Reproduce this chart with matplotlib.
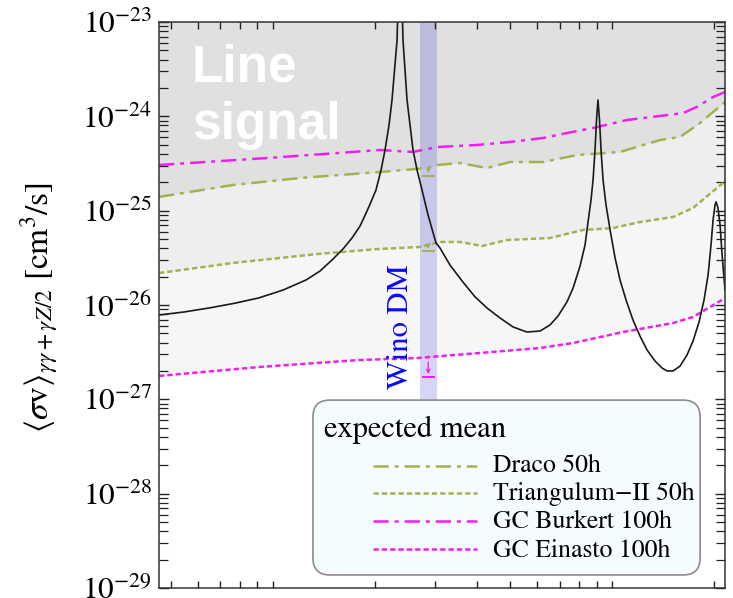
import numpy as np
import matplotlib
matplotlib.use('Agg')
import matplotlib.pyplot as plt
from matplotlib.patches import FancyBboxPatch
from matplotlib.ticker import LogLocator, FixedLocator, NullFormatter, NullLocator, LogFormatterMathtext

plt.rcParams['mathtext.fontset'] = 'stix'
plt.rcParams['font.family'] = ['STIXGeneral', 'DejaVu Serif']
plt.rcParams['lines.scale_dashes'] = False

# ---------------- data (mass in TeV, <sigma v> in cm^3/s) ----------------
wino_mass = [0.461, 0.546, 0.648, 0.767, 0.909, 1.070, 1.251, 1.376, 1.493, 1.609, 1.710, 1.806,
             1.881, 1.946, 2.013, 2.083, 2.140, 2.199, 2.244, 2.322, 2.370,
             2.418, 2.485, 2.536, 2.588, 2.660, 2.751, 2.866, 3.026, 3.109, 3.327, 3.610, 3.944,
             4.279, 4.674, 5.105, 5.61, 6.133, 6.562, 6.929, 7.365, 7.674, 8.048, 8.326, 8.496,
             8.671, 8.79, 8.91, 9.0, 9.09,
             9.185, 9.28, 9.41, 9.60, 9.87, 10.21, 10.56, 11.0, 11.53, 12.09, 12.69, 13.39, 14.04,
             14.53, 15.14, 15.87, 16.64, 17.34, 18.06, 18.68, 19.2, 19.59, 19.86, 20.13, 20.27,
             20.54, 20.83, 21.12, 21.54]
wino_sv = [7.83e-27, 8.43e-27, 9.3e-27, 1.04e-26, 1.19e-26, 1.44e-26, 1.84e-26, 2.29e-26, 3.0e-26,
           3.93e-26, 5.13e-26, 6.87e-26, 9.4e-26, 1.24e-25, 1.66e-25, 2.70e-25, 4.4e-25, 8.09e-25,
           1.49e-24, 6.4e-24, 1e-22,
           6.4e-24, 1.49e-24, 8.09e-25, 4.4e-25, 2.70e-25, 1.66e-25, 9.0e-26, 4.54e-26, 4.02e-26,
           2.65e-26, 1.80e-26, 1.22e-26, 9.29e-27, 7.28e-27, 5.85e-27, 5.17e-27, 5.30e-27,
           6.14e-27, 7.64e-27, 1.08e-26, 1.51e-26, 2.59e-26, 4.33e-26, 7.58e-26,
           1.30e-25, 2.11e-25, 4.40e-25, 9.14e-25, 1.49e-24,
           9.14e-25, 4.40e-25, 2.11e-25, 1.15e-25, 6.24e-26, 3.15e-26, 1.84e-26, 1.13e-26, 6.93e-27,
           4.69e-27, 3.33e-27, 2.55e-27, 2.15e-27, 2.0e-27, 2.0e-27, 2.25e-27, 2.95e-27, 4.15e-27,
           6.61e-27, 1.13e-26, 2.08e-26, 4.33e-26, 7.96e-26, 1.15e-25, 1.24e-25,
           1.07e-25, 7.05e-26, 3.39e-26, 1.44e-26]

draco_mass = [0.461, 0.762, 1.201, 2.068, 2.847, 3.047, 3.56, 4.28, 5.0, 6.26, 7.88, 10.56, 13.86,
              15.87, 18.18, 21.54]
draco_sv = [1.40e-25, 1.87e-25, 2.22e-25, 2.57e-25, 2.83e-25, 3.05e-25, 3.20e-25, 2.83e-25,
            3.28e-25, 3.28e-25, 3.89e-25, 4.19e-25, 5.61e-25, 6.04e-25, 8.49e-25, 1.42e-24]

tri_mass = [0.461, 0.762, 1.348, 2.068, 2.714, 3.109, 3.56, 4.14, 4.90, 6.56, 8.21, 10.07, 12.09,
            15.14, 17.34, 21.54]
tri_sv = [2.18e-26, 2.79e-26, 3.47e-26, 3.93e-26, 4.12e-26, 4.66e-26, 4.66e-26, 4.22e-26,
          4.89e-26, 5.13e-26, 6.24e-26, 6.55e-26, 7.58e-26, 8.57e-26, 1.07e-25, 2.05e-25]

burk_mass = [0.461, 0.98, 2.068, 2.588, 3.047, 4.0, 5.0, 6.26, 7.37, 8.79, 11.07, 13.86, 16.2,
             17.8, 19.86, 21.54]
burk_sv = [3.05e-25, 3.63e-25, 4.40e-25, 4.19e-25, 4.73e-25, 4.97e-25, 5.35e-25, 5.89e-25,
           6.66e-25, 7.52e-25, 9.14e-25, 1.01e-24, 1.08e-24, 1.26e-24, 1.60e-24, 1.81e-24]

ein_mass = [0.461, 0.909, 1.794, 2.660, 4.08, 6.13, 7.67, 10.78, 15.14, 17.34, 21.54]
ein_sv = [1.77e-27, 2.20e-27, 2.61e-27, 2.74e-27, 3.10e-27, 3.50e-27, 3.95e-27, 5.17e-27,
          6.44e-27, 7.46e-27, 1.18e-26]

wino_band = [2.72, 3.04]
wino_point = 2.87
limit_draco = [2.9e-25, 2.35e-25]
limit_tri = [4.5e-26, 3.7e-26]
limit_ein = [2.65e-27, 1.73e-27]

x_ticks = [0.5, 0.6, 0.7, 0.8, 0.9, 1, 2, 3, 4, 5, 6, 7, 8, 9, 10, 20]
legend_labels = ['Draco 50h', 'Triangulum\u2212II 50h', 'GC Burkert 100h', 'GC Einasto 100h']

# ---------------- styles ----------------
green = '#a3b24e'
magenta = '#f21ef0'
dashdot = (0, (11, 4.3, 2.8, 4.3))
dotted = (0, (3.8, 2.2))
lw = 1.8

fig = plt.figure(figsize=(7.33, 5.98), dpi=100)
ax = fig.add_axes([159/733, 10/598, 566/733, 566/598])
ax.set_xscale('log')
ax.set_yscale('log')
ax.set_xlim(0.461, 21.54)
ax.set_ylim(1e-29, 1e-23)

# shaded regions
ax.fill_between(ein_mass, ein_sv, 1e-22, color='#f6f6f6', lw=0, zorder=0.1)
ax.fill_between(tri_mass, tri_sv, 1e-22, color='#eeeeee', lw=0, zorder=0.2)
ax.fill_between(draco_mass, draco_sv, 1e-22, color='#e0e0e0', lw=0, zorder=0.3)

# wino band
ax.axvspan(wino_band[0], wino_band[1], ymin=0.3, ymax=1, color=(0.25, 0.25, 0.85), alpha=0.22,
           lw=0, zorder=0.5)

# expected limits
ax.plot(burk_mass, burk_sv, color=magenta, lw=lw, linestyle=dashdot, zorder=2)
ax.plot(draco_mass, draco_sv, color=green, lw=lw, linestyle=dashdot, zorder=2)
ax.plot(tri_mass, tri_sv, color=green, lw=lw, linestyle=dotted, zorder=2)
ax.plot(ein_mass, ein_sv, color=magenta, lw=lw, linestyle=dotted, zorder=2)

# markers at wino mass
for lim, col in [(limit_draco, green), (limit_tri, green), (limit_ein, magenta)]:
    ax.annotate('', xy=(wino_point, lim[1]), xytext=(wino_point, lim[0]),
                arrowprops=dict(arrowstyle='->', color=col, lw=1.0, mutation_scale=6), zorder=2.5)
    ax.hlines(lim[1], wino_band[0] * 1.01, wino_band[1] * 0.99, color=col, lw=1.4, zorder=2.5)

# wino curve
ax.plot(wino_mass, wino_sv, color='#1a1a1a', lw=1.2, zorder=3, solid_joinstyle='round')

# texts
ax.text(0.058, 0.894, 'Line', transform=ax.transAxes, color='white', fontsize=37,
        family='Liberation Sans', weight='bold', va='baseline', ha='left', zorder=2.2)
ax.text(0.058, 0.793, 'signal', transform=ax.transAxes, color='white', fontsize=37,
        family='Liberation Sans', weight='bold', va='baseline', ha='left', zorder=2.2)
ax.text(0.428, 0.462, 'Wino DM', transform=ax.transAxes, color='#0a0aff', fontsize=22,
        rotation=90, ha='center', va='center', zorder=3)

# legend (manual, Mathematica style)
box = FancyBboxPatch((0.272, 0.023), 0.684, 0.309, boxstyle='round,pad=0,rounding_size=0.03',
                     transform=ax.transAxes, facecolor='#f4fcfe', edgecolor='#8c8c8c', lw=1.2,
                     zorder=4)
ax.add_patch(box)
ax.text(0.2915, 0.2668, 'expected mean', transform=ax.transAxes, fontsize=22, va='baseline',
        ha='left', zorder=5)
styles = [(green, dashdot), (green, dotted), (magenta, dashdot), (magenta, dotted)]
handle_y = [465.7, 493.3, 521, 549]
text_y = [472, 500.5, 528.5, 557]
for lab, (c, ls), hy, ty in zip(legend_labels, styles, handle_y, text_y):
    fy = (588 - hy) / 566
    ax.plot([0.378, 0.562], [fy, fy], transform=ax.transAxes, color=c, lw=lw, linestyle=ls,
            zorder=5)
    ax.text(0.590, (588 - ty) / 566, lab, transform=ax.transAxes, fontsize=18.5, va='baseline',
            ha='left', zorder=5)

# axes styling
ax.xaxis.set_major_locator(FixedLocator(x_ticks))
ax.xaxis.set_major_formatter(NullFormatter())
ax.xaxis.set_minor_locator(NullLocator())
ax.yaxis.set_major_locator(LogLocator(base=10, numticks=20))
ax.yaxis.set_minor_locator(LogLocator(base=10, subs=np.arange(2, 10), numticks=20))
ax.yaxis.set_major_formatter(LogFormatterMathtext())
ax.yaxis.set_minor_formatter(NullFormatter())
ax.tick_params(axis='x', which='major', direction='in', top=True, bottom=True, length=5,
               width=1.0, color='#222222')
ax.tick_params(axis='y', which='major', direction='in', left=True, right=True, length=7.5,
               width=1.0, color='#222222', labelsize=22.5, pad=5)
ax.tick_params(axis='y', which='minor', direction='in', left=True, right=True, length=6.5,
               width=0.9, color='#222222')
for sp in ax.spines.values():
    sp.set_linewidth(1.1)
    sp.set_color('#333333')
    sp.set_zorder(6)

ax.set_ylabel(r'$\langle\sigma \mathrm{v}\rangle_{\gamma\gamma+\gamma Z/2}$ [cm$^3$/s]', fontsize=24)
ax.yaxis.set_label_coords(-0.21, 0.495)
ax.yaxis.label.set_va('center')

fig.savefig('out.png', dpi=100)
